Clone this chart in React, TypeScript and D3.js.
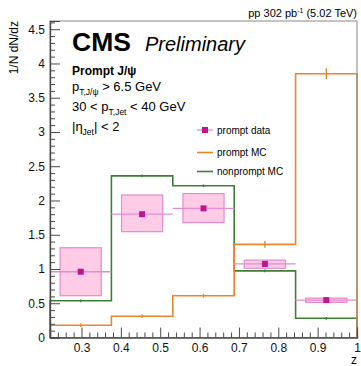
import { axisBottom, axisLeft, line as d3Line, range, scaleLinear, select } from "d3";
import { useEffect, useRef } from "react";

// bin edges in z and the per-bin values
const zEdges = [0.22, 0.376, 0.532, 0.688, 0.844, 1.0];
const dataValues = [0.96, 1.8, 1.885, 1.074, 0.546];
const dataSysLow = [0.61, 1.545, 1.677, 1.01, 0.512];
const dataSysHigh = [1.31, 2.08, 2.1, 1.13, 0.575];
const promptMC = [0.178, 0.31, 0.61, 1.36, 3.85];
const promptMCErr = [0.025, 0.025, 0.03, 0.05, 0.08];
const nonpromptMC = [0.536, 2.36, 2.215, 0.972, 0.28];
const nonpromptMCErr = [0.02, 0.02, 0.02, 0.02, 0.02];

const xMajorTicks = [0.3, 0.4, 0.5, 0.6, 0.7, 0.8, 0.9, 1.0];
const yMajorTicks = [0, 0.5, 1, 1.5, 2, 2.5, 3, 3.5, 4, 4.5];
const legendLabels = ["prompt data", "prompt MC", "nonprompt MC"];

const W = 361;
const H = 366;
const FONT = "'Liberation Sans', Arial, Helvetica, sans-serif";
const ORANGE = "#e8862e";
const GREEN = "#3d7f35";
const MAGENTA = "#c0158e";
const PINK_FILL = "#ffcce8";
const PINK_LINE = "#e48ccc";
const FRAME = "#4a4a4a";

export default function App() {
  const svgRef = useRef<SVGSVGElement | null>(null);

  useEffect(() => {
    document.body.style.margin = "0";
    if (!svgRef.current) return;
    const svg = select(svgRef.current);
    svg.selectAll("*").remove();

    const margin = { top: 21, right: 4, bottom: 28, left: 50 };
    const innerW = W - margin.left - margin.right;
    const innerH = H - margin.top - margin.bottom - 0.5;

    const x = scaleLinear().domain([zEdges[0], zEdges[zEdges.length - 1]]).range([0, innerW]);
    const y = scaleLinear().domain([0, 4.62]).range([innerH, 0]);

    const g = svg.append("g").attr("transform", `translate(${margin.left},${margin.top})`);

    const centers = dataValues.map((_, i) => (zEdges[i] + zEdges[i + 1]) / 2);

    // systematic boxes for the data
    dataValues.forEach((_, i) => {
      const half = (zEdges[i + 1] - zEdges[i]) * 0.335;
      g.append("rect")
        .attr("x", x(centers[i] - half))
        .attr("width", x(centers[i] + half) - x(centers[i] - half))
        .attr("y", y(dataSysHigh[i]))
        .attr("height", y(dataSysLow[i]) - y(dataSysHigh[i]))
        .attr("fill", PINK_FILL)
        .attr("stroke", PINK_LINE)
        .attr("stroke-width", 1.2);
    });

    // step histograms for MC
    const stepPoints = (vals: number[]) => {
      const pts: [number, number][] = [[zEdges[0], 0]];
      vals.forEach((v, i) => {
        pts.push([zEdges[i], v]);
        pts.push([zEdges[i + 1], v]);
      });
      pts.push([zEdges[zEdges.length - 1], 0]);
      return pts;
    };
    const stepLine = d3Line<[number, number]>()
      .x((d) => x(d[0]))
      .y((d) => y(d[1]));

    const drawHist = (vals: number[], errs: number[], color: string) => {
      g.append("path")
        .datum(stepPoints(vals))
        .attr("fill", "none")
        .attr("stroke", color)
        .attr("stroke-width", 1.6)
        .attr("d", stepLine);
      vals.forEach((v, i) => {
        g.append("line")
          .attr("x1", x(centers[i]))
          .attr("x2", x(centers[i]))
          .attr("y1", y(v - errs[i]))
          .attr("y2", y(v + errs[i]))
          .attr("stroke", color)
          .attr("stroke-width", 1.4);
      });
    };
    drawHist(nonpromptMC, nonpromptMCErr, GREEN);
    drawHist(promptMC, promptMCErr, ORANGE);

    // data points with bin-width bars
    dataValues.forEach((v, i) => {
      g.append("line")
        .attr("x1", x(zEdges[i]))
        .attr("x2", x(zEdges[i + 1]))
        .attr("y1", y(v))
        .attr("y2", y(v))
        .attr("stroke", PINK_LINE)
        .attr("stroke-width", 1.3);
      g.append("rect")
        .attr("x", x(centers[i]) - 3)
        .attr("y", y(v) - 3)
        .attr("width", 6)
        .attr("height", 6)
        .attr("fill", MAGENTA);
    });

    // frame
    g.append("rect")
      .attr("width", innerW)
      .attr("height", innerH)
      .attr("fill", "none")
      .attr("stroke", "#888")
      .attr("stroke-width", 1);

    // axes with inward ticks
    const styleAxis = (sel: any) => {
      sel.select(".domain").attr("stroke", FRAME).attr("stroke-width", 1.2);
      sel.selectAll(".tick line").attr("stroke", FRAME).attr("stroke-width", 1);
      sel
        .selectAll("text")
        .attr("font-family", FONT)
        .attr("font-size", 12)
        .attr("fill", "#111");
    };

    const yMinor = range(0, 4.61, 0.1).filter(
      (v) => !yMajorTicks.some((t) => Math.abs(t - v) < 1e-6)
    );
    g.append("g")
      .call(axisLeft(y).tickValues(yMinor).tickSize(-5).tickFormat(() => ""))
      .call(styleAxis);
    g.append("g")
      .call(
        axisLeft(y)
          .tickValues(yMajorTicks)
          .tickSize(-10)
          .tickPadding(5)
          .tickFormat((d) => `${d}`)
      )
      .call(styleAxis);

    const xMinor = range(0.22, 1.0001, 0.02).filter(
      (v) => !xMajorTicks.some((t) => Math.abs(t - v) < 1e-6)
    );
    g.append("g")
      .attr("transform", `translate(0,${innerH})`)
      .call(axisBottom(x).tickValues(xMinor).tickSize(-5).tickFormat(() => ""))
      .call(styleAxis);
    g.append("g")
      .attr("transform", `translate(0,${innerH})`)
      .call(
        axisBottom(x)
          .tickValues(xMajorTicks)
          .tickSize(-10)
          .tickPadding(6)
          .tickFormat((d) => `${d}`)
      )
      .call(styleAxis);

    // axis titles
    svg.append("text")
      .attr("transform", `translate(18,${margin.top}) rotate(-90)`)
      .attr("text-anchor", "end")
      .attr("font-family", FONT)
      .attr("font-size", 12)
      .text("1/N dN/dz");
    svg.append("text")
      .attr("x", W - 4)
      .attr("y", 364)
      .attr("text-anchor", "end")
      .attr("font-family", FONT)
      .attr("font-size", 12)
      .text("z");

    // luminosity label
    const lumi = svg.append("text")
      .attr("x", W - 4)
      .attr("y", 17)
      .attr("text-anchor", "end")
      .attr("font-family", FONT)
      .attr("font-size", 11);
    lumi.append("tspan").text("pp 302 pb");
    lumi.append("tspan").attr("font-size", 7).attr("dy", -4).text("-1");
    lumi.append("tspan").attr("dy", 4).text(" (5.02 TeV)");

    // CMS labels
    svg.append("text")
      .attr("x", 72)
      .attr("y", 51)
      .attr("font-family", FONT)
      .attr("font-weight", "bold")
      .attr("font-size", 26.5)
      .text("CMS");
    svg.append("text")
      .attr("x", 145)
      .attr("y", 51)
      .attr("font-family", FONT)
      .attr("font-style", "italic")
      .attr("font-size", 20)
      .text("Preliminary");
    svg.append("text")
      .attr("x", 72)
      .attr("y", 75)
      .attr("font-family", FONT)
      .attr("font-weight", "bold")
      .attr("font-size", 12)
      .text("Prompt J/ψ");

    const subLine = (yy: number, parts: [string, boolean][]) => {
      const t = svg.append("text")
        .attr("x", 72)
        .attr("y", yy)
        .attr("font-family", FONT)
        .attr("font-size", 13);
      let sub = false;
      parts.forEach(([s, isSub]) => {
        const dy = isSub === sub ? 0 : isSub ? 3.8 : -3.8;
        t.append("tspan")
          .attr("dy", dy)
          .attr("font-size", isSub ? 8.5 : 13)
          .text(s);
        sub = isSub;
      });
    };
    subLine(91, [["p", false], ["T,J/ψ", true], [" > 6.5 GeV", false]]);
    subLine(111, [["30 < p", false], ["T,Jet", true], [" < 40 GeV", false]]);
    subLine(131, [["|η", false], ["Jet", true], ["| < 2", false]]);

    // legend
    const legendY = [130, 152.5, 171.5];
    const lx0 = 197;
    const lx1 = 213;
    legendLabels.forEach((label, i) => {
      const ly = legendY[i];
      const color = i === 0 ? PINK_LINE : i === 1 ? ORANGE : GREEN;
      svg.append("line")
        .attr("x1", lx0)
        .attr("x2", lx1)
        .attr("y1", ly)
        .attr("y2", ly)
        .attr("stroke", color)
        .attr("stroke-width", i === 0 ? 1.3 : 1.6);
      if (i === 0) {
        svg.append("rect")
          .attr("x", (lx0 + lx1) / 2 - 3)
          .attr("y", ly - 3)
          .attr("width", 6)
          .attr("height", 6)
          .attr("fill", MAGENTA);
      }
      svg.append("text")
        .attr("x", 217)
        .attr("y", ly + 3.5)
        .attr("font-family", FONT)
        .attr("font-size", 10)
        .text(label);
    });
  }, []);

  return (
    <div style={{ position: "absolute", left: 0, top: 0 }}>
      <svg ref={svgRef} width={W} height={H} style={{ display: "block", background: "#fff" }} />
    </div>
  );
}
